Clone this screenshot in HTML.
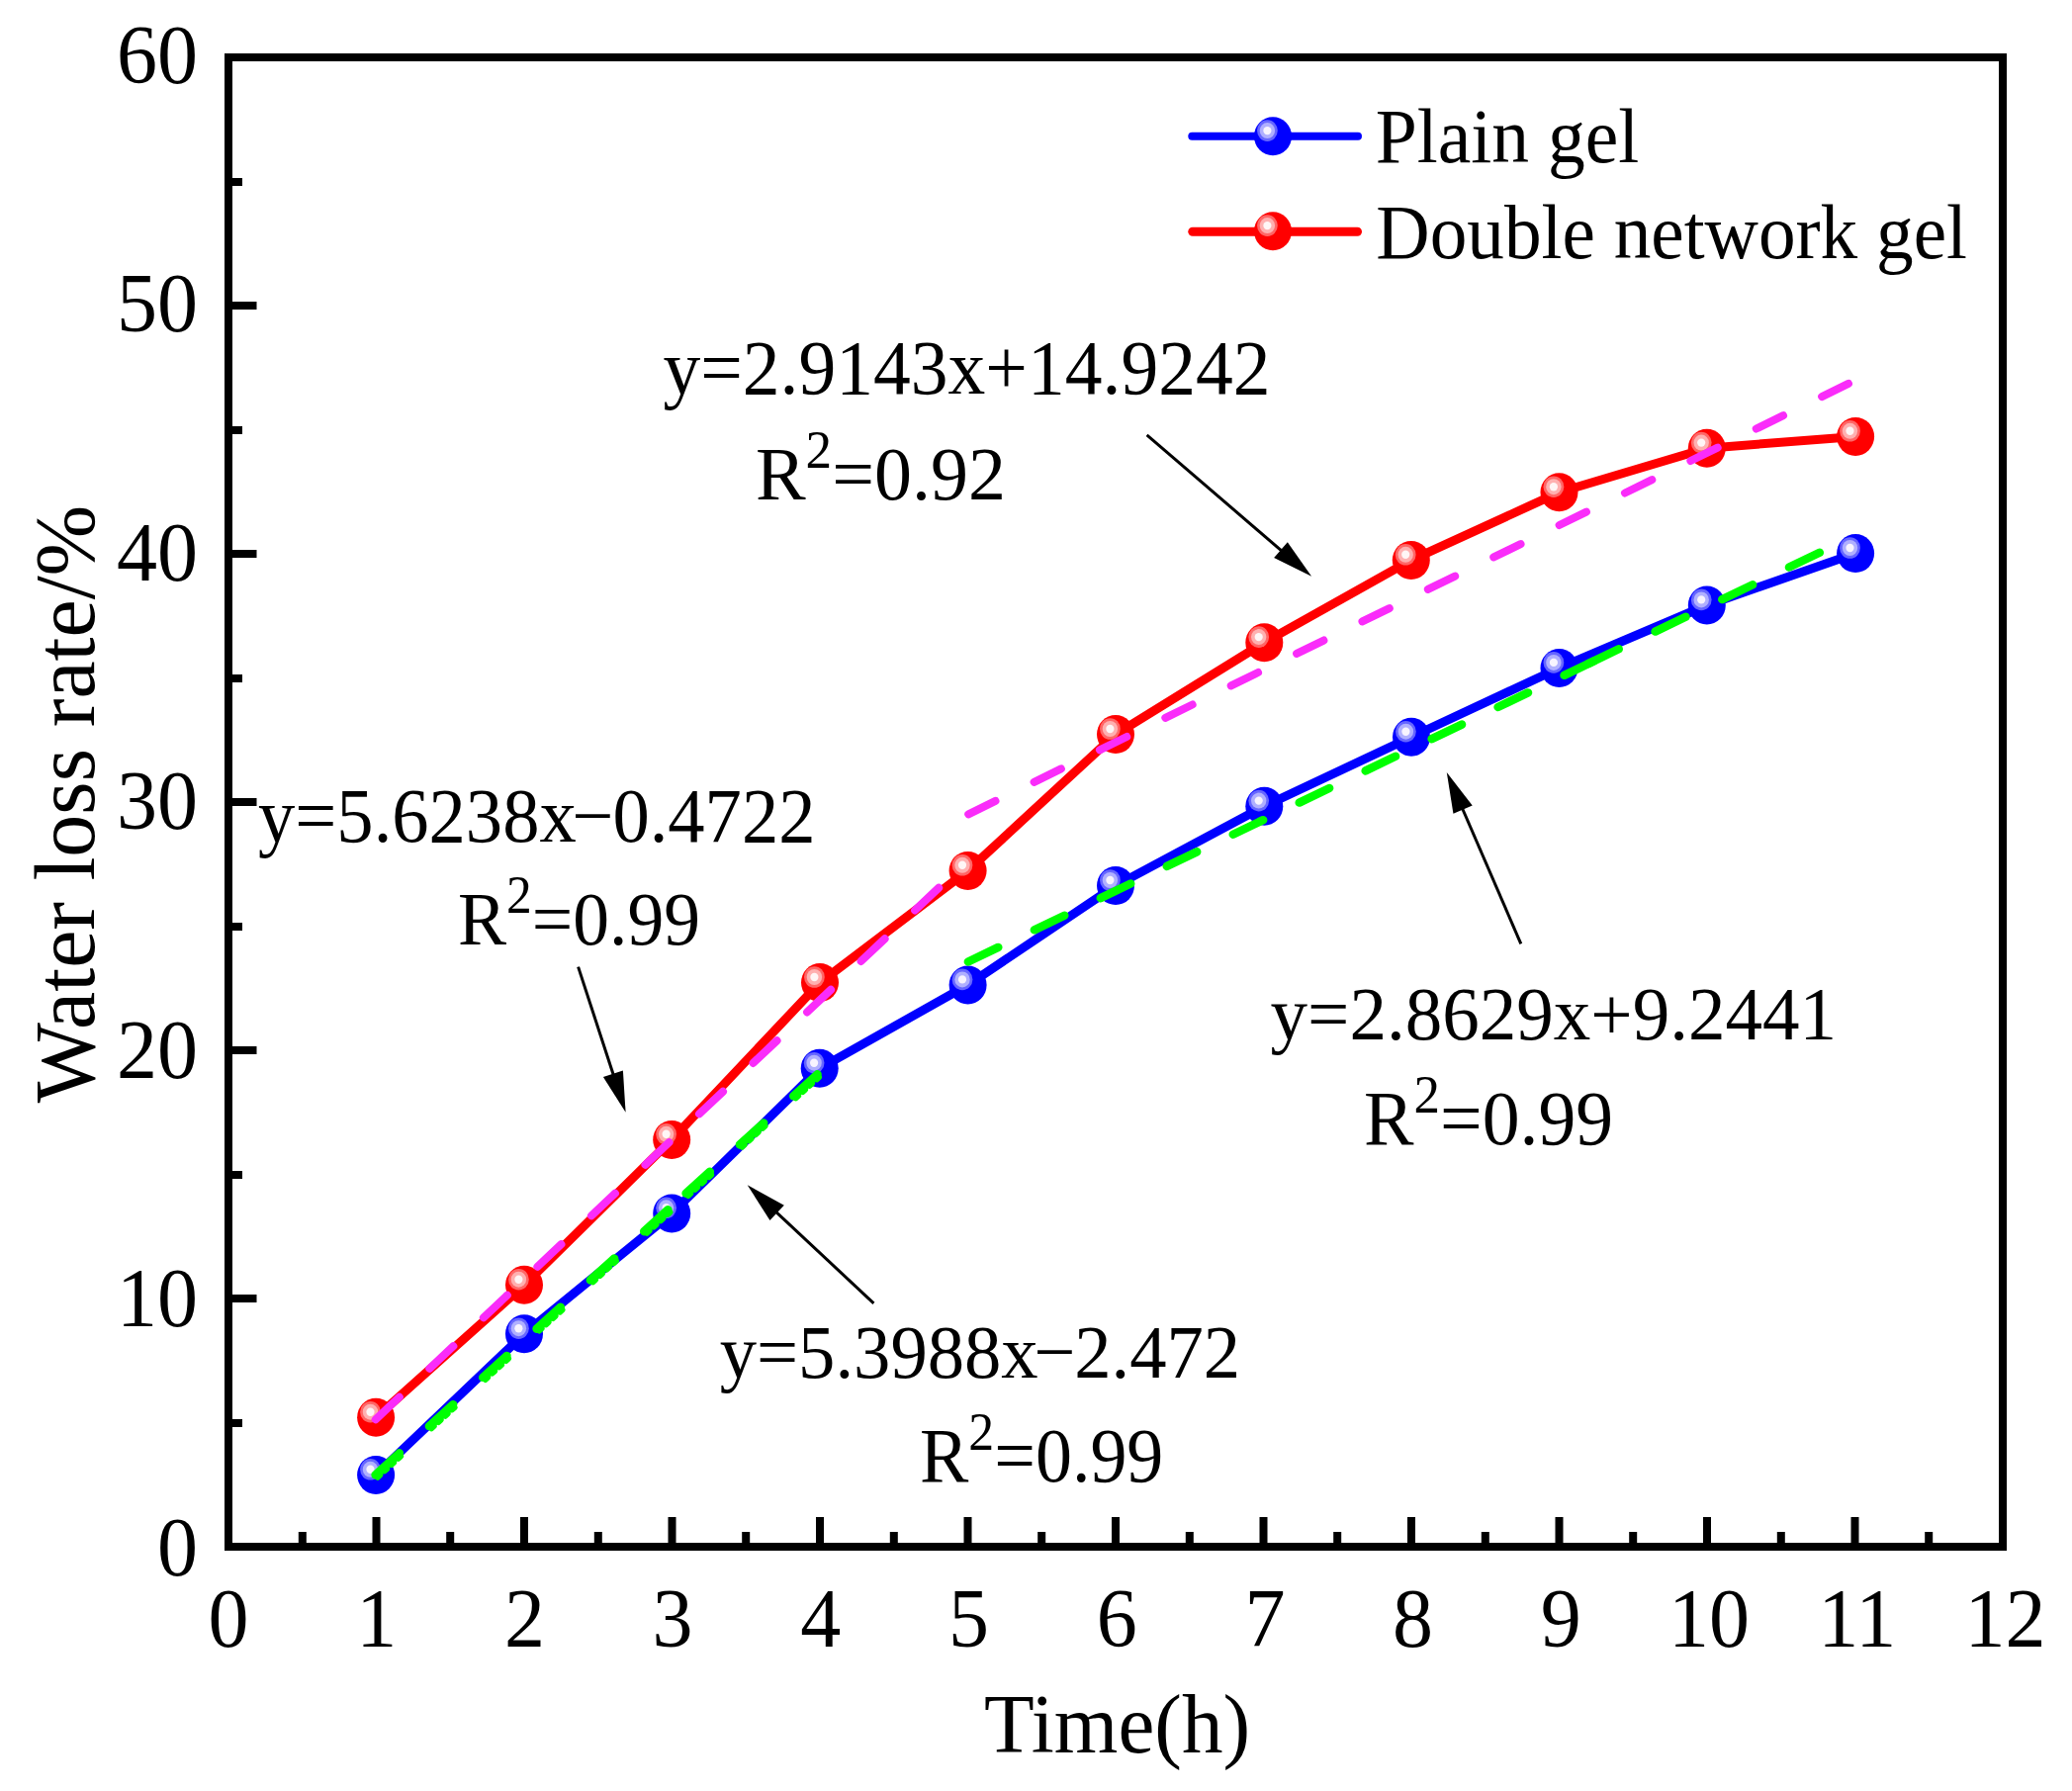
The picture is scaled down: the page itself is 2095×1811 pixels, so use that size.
<!DOCTYPE html>
<html lang="en"><head><meta charset="utf-8"><title>Water loss rate</title>
<style>
html,body{margin:0;padding:0;background:#fff}
svg{display:block}
text{font-family:"Liberation Serif","Times New Roman",serif;fill:#000}
</style></head><body>
<svg width="2095" height="1811" viewBox="0 0 2095 1811">
<defs>
<g id="mb"><ellipse rx="19" ry="19.5" fill="#0000ff"/><ellipse cx="-5.6" cy="-5.6" rx="10.4" ry="10.8" fill="#6666ff"/><ellipse cx="-5.6" cy="-5.6" rx="7.7" ry="8" fill="#b0b0ff"/><ellipse cx="-5.6" cy="-5.6" rx="4.1" ry="4.2" fill="#f8f4ff"/></g>
<g id="mr"><ellipse rx="19" ry="19.5" fill="#ff0000"/><ellipse cx="-5.6" cy="-5.6" rx="10.4" ry="10.8" fill="#ff6666"/><ellipse cx="-5.6" cy="-5.6" rx="7.7" ry="8" fill="#ffb0b0"/><ellipse cx="-5.6" cy="-5.6" rx="4.1" ry="4.2" fill="#fff6f6"/></g>
<path id="ah" d="M0,0 L-41,-10.5 L-41,10.5 Z" fill="#000"/>
</defs>
<rect width="2095" height="1811" fill="#fff"/>

<rect x="231.0" y="58.0" width="1794.0" height="1506.0" fill="none" stroke="#000" stroke-width="8"/>
<path d="M231.0,1564.0H259.5 M231.0,1439.0H245 M231.0,1313.0H259.5 M231.0,1188.0H245 M231.0,1062.0H259.5 M231.0,937.0H245 M231.0,811.0H259.5 M231.0,686.0H245 M231.0,560.0H259.5 M231.0,435.0H245 M231.0,309.0H259.5 M231.0,184.0H245 M231.0,58.0H259.5 M231.0,1564.0V1534 M305.8,1564.0V1549 M380.5,1564.0V1534 M455.2,1564.0V1549 M530.0,1564.0V1534 M604.8,1564.0V1549 M679.5,1564.0V1534 M754.2,1564.0V1549 M829.0,1564.0V1534 M903.8,1564.0V1549 M978.5,1564.0V1534 M1053.2,1564.0V1549 M1128.0,1564.0V1534 M1202.8,1564.0V1549 M1277.5,1564.0V1534 M1352.2,1564.0V1549 M1427.0,1564.0V1534 M1501.8,1564.0V1549 M1576.5,1564.0V1534 M1651.2,1564.0V1549 M1726.0,1564.0V1534 M1800.8,1564.0V1549 M1875.5,1564.0V1534 M1950.2,1564.0V1549 M2025.0,1564.0V1534" stroke="#000" stroke-width="8" fill="none"/>
<text transform="translate(200,1592.5) scale(0.965,1)" font-size="85" text-anchor="end">0</text>
<text transform="translate(200,1341.0) scale(0.965,1)" font-size="85" text-anchor="end">10</text>
<text transform="translate(200,1089.5) scale(0.965,1)" font-size="85" text-anchor="end">20</text>
<text transform="translate(200,838.0) scale(0.965,1)" font-size="85" text-anchor="end">30</text>
<text transform="translate(200,586.5) scale(0.965,1)" font-size="85" text-anchor="end">40</text>
<text transform="translate(200,335.0) scale(0.965,1)" font-size="85" text-anchor="end">50</text>
<text transform="translate(200,83.5) scale(0.965,1)" font-size="85" text-anchor="end">60</text>
<text transform="translate(231.0,1665) scale(0.965,1)" font-size="85" text-anchor="middle">0</text>
<text transform="translate(380.7,1665) scale(0.965,1)" font-size="85" text-anchor="middle">1</text>
<text transform="translate(530.4,1665) scale(0.965,1)" font-size="85" text-anchor="middle">2</text>
<text transform="translate(680.1,1665) scale(0.965,1)" font-size="85" text-anchor="middle">3</text>
<text transform="translate(829.8,1665) scale(0.965,1)" font-size="85" text-anchor="middle">4</text>
<text transform="translate(979.5,1665) scale(0.965,1)" font-size="85" text-anchor="middle">5</text>
<text transform="translate(1129.2,1665) scale(0.965,1)" font-size="85" text-anchor="middle">6</text>
<text transform="translate(1278.9,1665) scale(0.965,1)" font-size="85" text-anchor="middle">7</text>
<text transform="translate(1428.6,1665) scale(0.965,1)" font-size="85" text-anchor="middle">8</text>
<text transform="translate(1578.3,1665) scale(0.965,1)" font-size="85" text-anchor="middle">9</text>
<text transform="translate(1728.0,1665) scale(0.965,1)" font-size="85" text-anchor="middle">10</text>
<text transform="translate(1877.7,1665) scale(0.965,1)" font-size="85" text-anchor="middle">11</text>
<text transform="translate(2027.4,1665) scale(0.965,1)" font-size="85" text-anchor="middle">12</text>
<text transform="translate(1129.5,1772) scale(0.977,1)" font-size="85" text-anchor="middle">Time(h)</text>
<text transform="translate(94.5,813) rotate(-90)" font-size="86" text-anchor="middle">Water loss rate/%</text>
<polyline points="380.1,1491.4 530,1348.8 679.2,1226.9 828.7,1080.3 978.6,996 1128,895.6 1278.3,815.2 1427,745.3 1576.5,675.5 1725.8,612 1876.1,559.6" fill="none" stroke="#0000ff" stroke-width="9" stroke-linejoin="round"/>
<use href="#mb" x="380.1" y="1491.4"/>
<use href="#mb" x="530" y="1348.8"/>
<use href="#mb" x="679.2" y="1226.9"/>
<use href="#mb" x="828.7" y="1080.3"/>
<use href="#mb" x="978.6" y="996"/>
<use href="#mb" x="1128" y="895.6"/>
<use href="#mb" x="1278.3" y="815.2"/>
<use href="#mb" x="1427" y="745.3"/>
<use href="#mb" x="1576.5" y="675.5"/>
<use href="#mb" x="1725.8" y="612"/>
<use href="#mb" x="1876.1" y="559.6"/>
<polyline points="380.1,1433.3 530,1299.3 679.2,1152.4 829,993.6 978.6,880.4 1128,742.6 1278.3,649.7 1426.8,566.4 1576.5,497.8 1725.8,453.2 1876.1,441.4" fill="none" stroke="#ff0000" stroke-width="9" stroke-linejoin="round"/>
<use href="#mr" x="380.1" y="1433.3"/>
<use href="#mr" x="530" y="1299.3"/>
<use href="#mr" x="679.2" y="1152.4"/>
<use href="#mr" x="829" y="993.6"/>
<use href="#mr" x="978.6" y="880.4"/>
<use href="#mr" x="1128" y="742.6"/>
<use href="#mr" x="1278.3" y="649.7"/>
<use href="#mr" x="1426.8" y="566.4"/>
<use href="#mr" x="1576.5" y="497.8"/>
<use href="#mr" x="1725.8" y="453.2"/>
<use href="#mr" x="1876.1" y="441.4"/>
<line x1="379.6" y1="1491.3" x2="676.4" y2="1222.4" stroke="#00ff00" stroke-width="8.5" stroke-linecap="round" stroke-dasharray="32.7 40.6"/>
<line x1="381.8" y1="1493.7" x2="678.5" y2="1224.7" stroke="#00ff00" stroke-width="6" stroke-linecap="round" stroke-dasharray="3.3 6.1 3.3 6.1 3.3 6.1 3.3 42.0"/>
<line x1="693.6" y1="1206.7" x2="826.9" y2="1086.0" stroke="#00ff00" stroke-width="8.5" stroke-linecap="round" stroke-dasharray="32.7 40.6"/>
<line x1="695.8" y1="1209.1" x2="829.0" y2="1088.3" stroke="#00ff00" stroke-width="6" stroke-linecap="round" stroke-dasharray="3.3 6.1 3.3 6.1 3.3 6.1 3.3 42.0"/>
<line x1="978.9" y1="972.5" x2="1612.2" y2="668.1" stroke="#00ff00" stroke-width="8.5" stroke-linecap="round" stroke-dasharray="33.7 40.6"/>
<line x1="1605.9" y1="671.1" x2="1840.7" y2="558.3" stroke="#00ff00" stroke-width="8.5" stroke-linecap="round" stroke-dasharray="34.2 40.9"/>
<line x1="379.8" y1="1435.3" x2="979.1" y2="869.5" stroke="#fa2cfa" stroke-width="8" stroke-linecap="round" stroke-dasharray="33.0 42.0"/>
<line x1="979.2" y1="823.3" x2="1869.0" y2="387.9" stroke="#fa2cfa" stroke-width="8" stroke-linecap="round" stroke-dasharray="30.4 43.5"/>
<line x1="1159.6" y1="439.9" x2="1303.3" y2="563.3" stroke="#000" stroke-width="3"/><use href="#ah" transform="translate(1326.1,582.8) rotate(40.64)"/>
<line x1="584.6" y1="977.6" x2="623.3" y2="1096.3" stroke="#000" stroke-width="3"/><use href="#ah" transform="translate(632.6,1124.8) rotate(71.94)"/>
<line x1="883.4" y1="1317.9" x2="777.6" y2="1218.8" stroke="#000" stroke-width="3"/><use href="#ah" transform="translate(755.7,1198.3) rotate(-136.88)"/>
<line x1="1537.8" y1="954.3" x2="1474.7" y2="808.5" stroke="#000" stroke-width="3"/><use href="#ah" transform="translate(1462.8,781) rotate(-113.40)"/>
<text transform="translate(670.42,397.7) scale(0.9788,1)" font-size="77.2">y=2.9143x+14.9242</text>
<text transform="translate(763.93,505) scale(0.9841,1)" font-size="77.2">R<tspan font-size="54" dy="-32">2</tspan><tspan dy="32">=0.92</tspan></text>
<text transform="translate(261.03,851) scale(0.9661,1)" font-size="77.2">y=5.6238x<tspan dx="-4.6">−</tspan><tspan dx="-1">0.4722</tspan></text>
<text transform="translate(462.99,955.1) scale(0.9532,1)" font-size="77.2">R<tspan font-size="54" dy="-32">2</tspan><tspan dy="32">=0.99</tspan></text>
<text transform="translate(727.73,1393.2) scale(0.9667,1)" font-size="77.2">y=5.3988x<tspan dx="-4.6">−</tspan><tspan dx="-1">2.472</tspan></text>
<text transform="translate(929.98,1497.8) scale(0.9583,1)" font-size="77.2">R<tspan font-size="54" dy="-32">2</tspan><tspan dy="32">=0.99</tspan></text>
<text transform="translate(1284.53,1050.5) scale(0.9724,1)" font-size="77.2">y=2.8629x+9.2441</text>
<text transform="translate(1378.94,1156.5) scale(0.9813,1)" font-size="77.2">R<tspan font-size="54" dy="-32">2</tspan><tspan dy="32">=0.99</tspan></text>
<text transform="translate(1390.84,163.8) scale(0.9784,1)" font-size="77.2">Plain gel</text>
<text transform="translate(1391.35,260.8) scale(0.9749,1)" font-size="77.2">Double network gel</text>
<line x1="1205.3" y1="137.7" x2="1373" y2="137.7" stroke="#0000ff" stroke-width="8" stroke-linecap="round"/><use href="#mb" x="1287" y="137.7"/>
<line x1="1205.8" y1="234.3" x2="1372.5" y2="234.3" stroke="#ff0000" stroke-width="9" stroke-linecap="round"/><use href="#mr" x="1287" y="233.7"/>
</svg></body></html>
